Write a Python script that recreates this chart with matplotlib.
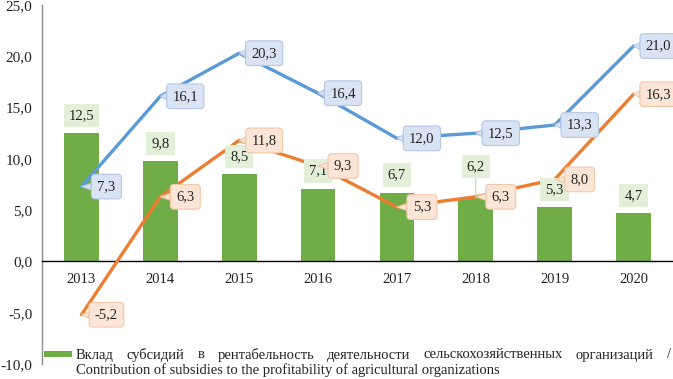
import numpy as np
import matplotlib.pyplot as plt
from matplotlib.patches import Rectangle
from matplotlib.ticker import FuncFormatter

years = ['2013', '2014', '2015', '2016', '2017', '2018', '2019', '2020']
subsidy_share = [12.5, 9.8, 8.5, 7.1, 6.7, 6.2, 5.3, 4.7]
with_subsidies = [7.3, 16.1, 20.3, 16.4, 12.0, 12.5, 13.3, 21.0]
without_subsidies = [-5.2, 6.3, 11.8, 9.3, 5.3, 6.3, 8.0, 16.3]

legend_ru = 'Вклад субсидий в рентабельность деятельности сельскохозяйственных организаций /'
legend_en = 'Contribution of subsidies to the profitability of agricultural organizations'

plt.rcParams['font.family'] = ['Liberation Serif', 'DejaVu Serif']
plt.rcParams['font.size'] = 10.5

W, H = 673, 379
fig = plt.figure(figsize=(W / 100, H / 100), dpi=100)
ax = fig.add_axes([42 / W, 15 / H, 631 / W, 359 / H])

x = np.arange(len(years))
ax.bar(x, subsidy_share, width=0.44, color='#70AD47', zorder=2)
ax.plot(x, with_subsidies, color='#5B9BD5', lw=2.4, zorder=3, solid_capstyle='round')
ax.plot(x, without_subsidies, color='#ED7D31', lw=2.4, zorder=3, solid_capstyle='round')

ax.set_xlim(-0.5, 7.5)
ax.set_ylim(-10, 25)
ax.set_yticks(np.arange(-10, 26, 5))
ax.set_xticks(x)
ax.set_xticklabels(years)
ax.yaxis.set_major_formatter(FuncFormatter(lambda v, p: f'{v:.1f}'.replace('.', ',')))
ax.tick_params(axis='both', length=0, labelcolor='#222222')
ax.tick_params(axis='x', pad=8)
ax.tick_params(axis='y', pad=7, labelsize=11)

for s in ['top', 'right']:
    ax.spines[s].set_visible(False)
ax.spines['bottom'].set_position(('data', 0))
ax.spines['bottom'].set_color('black')
ax.spines['bottom'].set_linewidth(1.0)
ax.spines['left'].set_color('#8c8c8c')
ax.spines['left'].set_linewidth(1.0)


def fmt(v):
    return f'{v:.1f}'.replace('.', ',')


# callout labels for the two lines
for vals, fc, ec in [(with_subsidies, '#DAE3F3', '#B4C7E7'),
                     (without_subsidies, '#FBE5D6', '#F4C7A9')]:
    for i, v in enumerate(vals):
        ax.annotate(fmt(v), xy=(i, v), xytext=(18, 0), textcoords='offset points',
                    ha='center', va='center', color='#222222', zorder=6,
                    bbox=dict(boxstyle='round,pad=0.4,rounding_size=0.25', fc=fc, ec=ec, lw=0.8),
                    arrowprops=dict(arrowstyle='wedge,tail_width=0.45', fc=fc, ec=ec, lw=0.8,
                                    shrinkA=0, shrinkB=0))

# bar labels above the bars
for i, v in enumerate(subsidy_share):
    up = 18 if years[i] == '2018' else 8
    ax.annotate(fmt(v), xy=(i, v), xytext=(0, up), textcoords='offset points',
                ha='center', va='bottom', color='#222222', zorder=5,
                bbox=dict(boxstyle='square,pad=0.35', fc='#E2F0D9', ec='none'),
                arrowprops=dict(arrowstyle='-', color='#A9D18E', lw=0.6,
                                shrinkA=0, shrinkB=0) if up > 8 else None)

# legend (only the bar entry is visible), first line justified
fig.patches.append(Rectangle((44 / W, 1 - 357 / H), 28 / W, 6 / H,
                             transform=fig.transFigure, fc='#70AD47', ec='none'))
renderer = fig.canvas.get_renderer()
words = legend_ru.split()
widths = []
for w in words:
    t = fig.text(0, 0, w)
    widths.append(t.get_window_extent(renderer).width)
    t.remove()
gap = (671 - 76 - sum(widths)) / (len(words) - 1)
xpos = 76
for w, wd in zip(words, widths):
    fig.text(xpos / W, 1 - 355 / H, w, va='center', color='#222222')
    xpos += wd + gap
fig.text(76 / W, 1 - 370 / H, legend_en, va='center', color='#222222')

fig.savefig('out.png', dpi=100)
